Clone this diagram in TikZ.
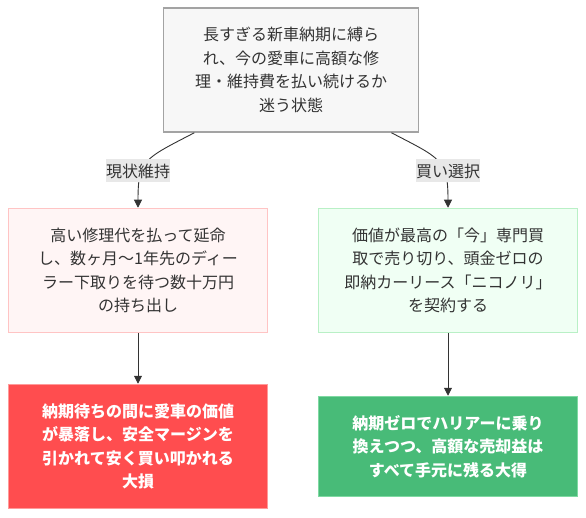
\documentclass[tikz,border=0pt]{standalone}
\usepackage{fontspec}
\setmainfont{Noto Sans CJK JP}
\usepackage{xcolor}
\usetikzlibrary{arrows.meta,positioning}
\definecolor{ink}{HTML}{333333}
\definecolor{startbg}{HTML}{F7F7F7}
\definecolor{startline}{HTML}{A3A3A3}
\definecolor{stayline}{HTML}{FFC4C4}
\definecolor{staybg}{HTML}{FFF5F5}
\definecolor{sellline}{HTML}{B9F0C6}
\definecolor{sellbg}{HTML}{F0FFF4}
\definecolor{lossbg}{HTML}{FF4D4F}
\definecolor{lossline}{HTML}{FF9A9A}
\definecolor{gainbg}{HTML}{48BB78}
\definecolor{gainline}{HTML}{7FD9A2}
\definecolor{tagbg}{HTML}{E8E8E8}

\begin{document}
\begin{tikzpicture}[x=1pt,y=-1pt,
  box/.style={draw,line width=1.5pt,minimum width=259pt,minimum height=124pt,
              text width=250pt,align=center,inner sep=0pt,text=ink,
              font=\fontsize{16pt}{23.5pt}\selectfont},
  tag/.style={fill=tagbg,text=ink,inner sep=0pt,minimum height=23pt,
              font=\fontsize{16pt}{23.5pt}\selectfont},
  flow/.style={draw=ink,line width=0.9pt,-{Triangle[length=8pt,width=8pt]}}]
  \useasboundingbox (0,0) rectangle (586,518);

  \node[box,draw=startline,fill=startbg,minimum width=255pt] (start) at (291,70)
  {長すぎる新車納期に縛ら\\れ、今の愛車に高額な修\\理・維持費を払い続けるか\\迷う状態};

  \node[box,draw=stayline,fill=staybg] (stay) at (138,270.5)
  {高い修理代を払って延命\\し、数ヶ月〜1年先のディー\\ラー下取りを待つ数十万円\\の持ち出し};
  \node[box,draw=sellline,fill=sellbg] (sell) at (448,270.5)
  {価値が最高の「今」専門買\\取で売り切り、頭金ゼロの\\即納カーリース「ニコノリ」\\を契約する};

  \node[box,draw=lossline,fill=lossbg,text=white,font=\fontsize{16pt}{23.5pt}\selectfont\bfseries]
    (loss) at (138,446.5)
  {納期待ちの間に愛車の価値\\が暴落し、安全マージンを\\引かれて安く買い叩かれる\\大損};
  \node[box,draw=gainline,fill=gainbg,text=white,minimum height=100pt,
        font=\fontsize{16pt}{23.5pt}\selectfont\bfseries]
    (gain) at (448,446.5)
  {納期ゼロでハリアーに乗り\\換えつつ、高額な売却益は\\すべて手元に残る大得};

  % branches
  \draw[flow] (start.213) .. controls +(-50,26) and +(0,-48) .. (stay.north);
  \draw[flow] (start.328) .. controls +(50,26) and +(0,-48) .. (sell.north);
  \node[tag] (keep) at (138,171) {現状維持};
  \node[tag] (buy) at (448,171) {買い選択};

  % outcomes
  \draw[flow] (stay.south) -- (loss.north);
  \draw[flow] (sell.south) -- (gain.north);
\end{tikzpicture}
\end{document}
